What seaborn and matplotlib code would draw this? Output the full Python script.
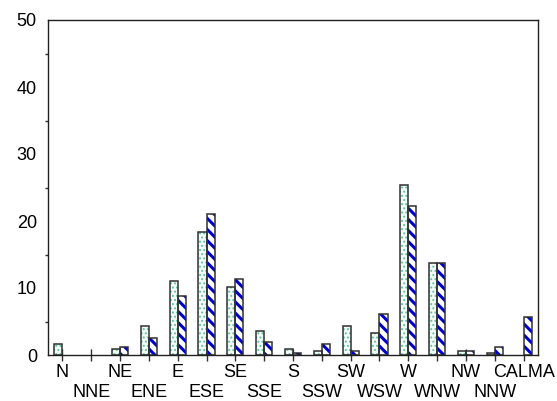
import matplotlib
matplotlib.use("Agg")
import matplotlib.pyplot as plt
import seaborn as sns
import pandas as pd
from matplotlib.patches import Rectangle
from matplotlib.ticker import MultipleLocator, FixedLocator, FixedFormatter

directions = ["N", "NNE", "NE", "ENE", "E", "ESE", "SE", "SSE", "S",
              "SSW", "SW", "WSW", "W", "WNW", "NW", "NNW", "CALMA"]
serie1 = [1.6, 0.0, 0.9, 4.3, 11.0, 18.4, 10.1, 3.6, 0.9,
          0.65, 4.3, 3.3, 25.4, 13.7, 0.65, 0.25, 0.0]
serie2 = [0.0, 0.0, 1.2, 2.6, 8.8, 21.0, 11.4, 1.9, 0.3,
          1.6, 0.65, 6.1, 22.3, 13.7, 0.65, 1.2, 5.6]
series_names = ["Serie 1", "Serie 2"]

df = pd.DataFrame({
    "dir": directions * 2,
    "val": serie1 + serie2,
    "serie": [series_names[0]] * len(directions) + [series_names[1]] * len(directions),
})

sns.set_style("white")
plt.rcParams["font.family"] = ["Liberation Sans", "DejaVu Sans"]
plt.rcParams["text.color"] = "black"
plt.rcParams["xtick.color"] = "black"
plt.rcParams["ytick.color"] = "black"
plt.rcParams["hatch.linewidth"] = 2.2

fig = plt.figure(figsize=(5.57, 4.01), dpi=100)
ax = fig.add_axes([48 / 557, 46 / 401, 490 / 557, 335 / 401])

sns.barplot(data=df, x="dir", y="val", hue="serie", order=directions,
            hue_order=series_names, width=0.56, gap=0, ax=ax, legend=False,
            palette=["#f2fbf7", "white"], saturation=1)

styles = [("#5fc4a0", "....", 0.9), ("#0000cc", "\\\\\\", 2.2)]
for cont, (hc, h, hlw) in zip(ax.containers, styles):
    for p in cont.patches:
        p.set_hatch(h)
        p.set_edgecolor(hc)
        p.set_linewidth(0)
        if hasattr(p, "set_hatch_linewidth"):
            p.set_hatch_linewidth(hlw)
        else:
            p._hatch_linewidth = hlw
        if p.get_height() > 0:
            ax.add_patch(Rectangle(p.get_xy(), p.get_width(), p.get_height(),
                                   fill=False, edgecolor="#303030", linewidth=1.1,
                                   zorder=p.get_zorder() + 0.1))

ax.set_xlim(-0.5, len(directions) - 0.5)
ax.set_ylim(0, 50)
ax.yaxis.set_major_locator(MultipleLocator(10))
ax.yaxis.set_minor_locator(MultipleLocator(5))

even = list(range(0, len(directions), 2))
odd = list(range(1, len(directions), 2))
ax.xaxis.set_major_locator(FixedLocator(even))
ax.xaxis.set_major_formatter(FixedFormatter([directions[i] for i in even]))
ax.xaxis.set_minor_locator(FixedLocator(odd))
ax.xaxis.set_minor_formatter(FixedFormatter([directions[i] for i in odd]))

ax.tick_params(axis="x", which="both", direction="inout", length=9, width=1,
               color="#303030", labelsize=13, bottom=True)
ax.tick_params(axis="x", which="major", pad=2)
ax.tick_params(axis="x", which="minor", pad=16.5)
ax.tick_params(axis="y", which="major", direction="out", length=5, width=1,
               color="#303030", labelsize=13, pad=3)
ax.tick_params(axis="y", which="minor", direction="out", length=2, width=1,
               color="#303030", left=True)
ax.set_xlabel("")
ax.set_ylabel("")
for s in ax.spines.values():
    s.set_visible(True)
    s.set_color("#202020")
    s.set_linewidth(1)

fig.savefig("out.png", dpi=100)
